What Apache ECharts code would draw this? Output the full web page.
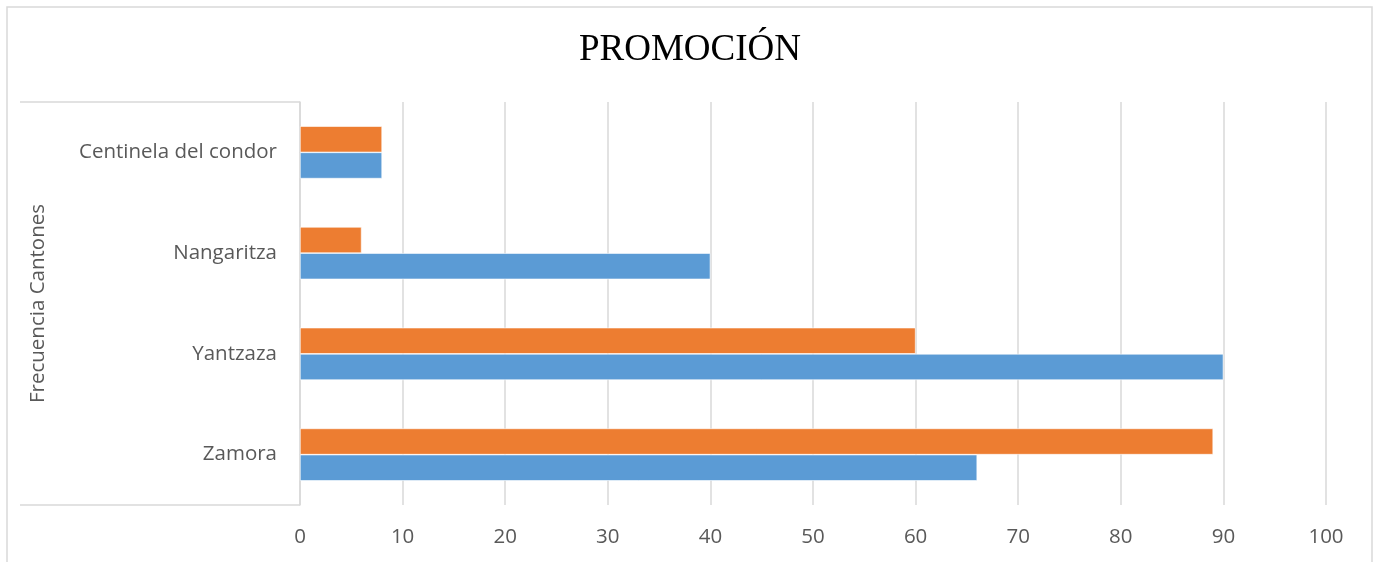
<!DOCTYPE html>
<html>
<head>
<meta charset="utf-8">
<script src="https://cdn.jsdelivr.net/npm/echarts@6/dist/echarts.min.js"></script>
<style>
  html, body { margin: 0; padding: 0; background: #ffffff; }
  #chart { width: 1380px; height: 562px; }
</style>
</head>
<body>
<div id="chart"></div>
<script>
// Cantones, listed bottom to top
const categories = ['Zamora', 'Yantzaza', 'Nangaritza', 'Centinela del condor'];
// Two frequency series per cantón
const serieAzul = [66, 90, 40, 8];
const serieNaranja = [89, 60, 6, 8];
const xTicks = { min: 0, max: 100, interval: 10 };

const chart = echarts.init(document.getElementById('chart'), null, { renderer: 'canvas' });
const gridColor = '#d9d9d9';
const textColor = '#595959';
const font = '"Open Sans", "Liberation Sans", sans-serif';

chart.setOption({
  animation: false,
  backgroundColor: '#ffffff',
  title: {
    text: 'PROMOCIÓN',
    left: 'center',
    top: 27,
    textStyle: { fontFamily: '"Liberation Serif", "Times New Roman", serif', fontSize: 37, fontWeight: 'normal', color: '#000000' }
  },
  grid: { left: 300, right: 54, top: 102, bottom: 57, containLabel: false },
  xAxis: {
    type: 'value',
    min: xTicks.min,
    max: xTicks.max,
    interval: xTicks.interval,
    axisLine: { show: false },
    axisTick: { show: false },
    axisLabel: { color: textColor, fontFamily: font, fontSize: 20.5, margin: 22 },
    splitLine: { show: true, lineStyle: { color: gridColor, width: 1.5 } }
  },
  yAxis: {
    type: 'category',
    data: categories,
    name: 'Frecuencia Cantones',
    nameLocation: 'middle',
    nameGap: 251,
    nameRotate: 90,
    nameTextStyle: { color: textColor, fontFamily: font, fontSize: 20.5 },
    axisLine: { show: true, lineStyle: { color: gridColor, width: 1.5 } },
    axisTick: { show: false },
    axisLabel: { color: textColor, fontFamily: font, fontSize: 20.5, margin: 23 },
    splitLine: { show: false }
  },
  graphic: [
    { type: 'rect', silent: true, shape: { x: 7, y: 7, width: 1365, height: 600 },
      style: { fill: 'none', stroke: gridColor, lineWidth: 1.5 } },
    { type: 'line', silent: true, shape: { x1: 20, y1: 102, x2: 300, y2: 102 },
      style: { stroke: gridColor, lineWidth: 1.5 } },
    { type: 'line', silent: true, shape: { x1: 20, y1: 505, x2: 300, y2: 505 },
      style: { stroke: gridColor, lineWidth: 1.5 } }
  ],
  // series order: the first series is drawn on the upper side of each pair
  series: [
    {
      name: 'Serie 2', type: 'bar', data: serieNaranja,
      barGap: '0%', barCategoryGap: '48%',
      itemStyle: { color: '#ed7d31', borderColor: '#ffffff', borderWidth: 0.6 }
    },
    {
      name: 'Serie 1', type: 'bar', data: serieAzul,
      barGap: '0%', barCategoryGap: '48%',
      itemStyle: { color: '#5b9bd5', borderColor: '#ffffff', borderWidth: 0.6 }
    }
  ]
});
</script>
</body>
</html>
